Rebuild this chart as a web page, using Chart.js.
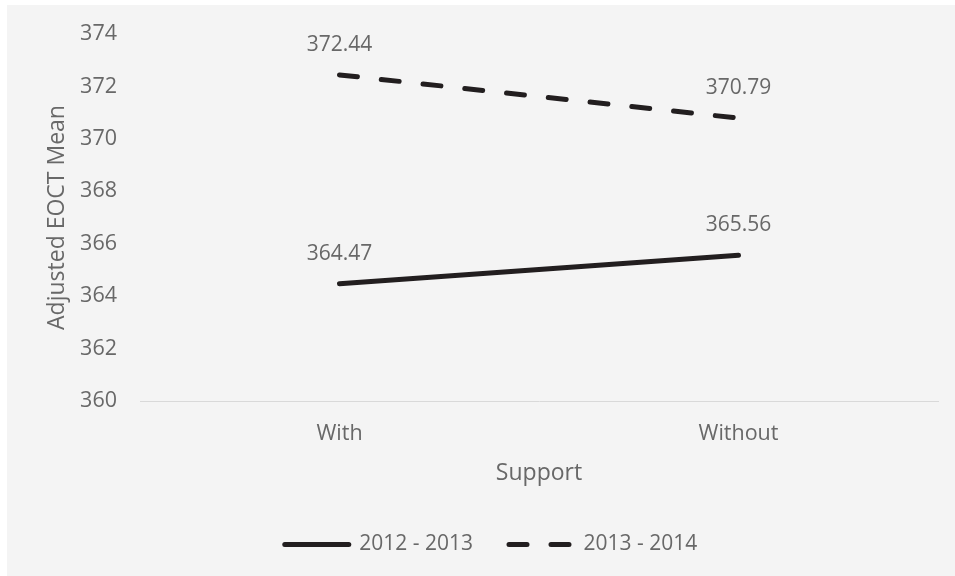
<!DOCTYPE html>
<html>
<head>
<meta charset="utf-8">
<script src="https://cdn.jsdelivr.net/npm/chart.js@4/dist/chart.umd.min.js"></script>
<style>
  html, body { margin: 0; padding: 0; background: #ffffff; }
  #frame { position: absolute; left: 7px; top: 5px; width: 948px; height: 571px; background: #f4f4f4; }
  canvas { display: block; }
</style>
</head>
<body>
<div id="frame"><canvas id="chart" width="948" height="571"></canvas></div>
<script>
// Adjusted EOCT means by support condition, two school years
const categories = ['With', 'Without'];
const seriesNames = ['2012 - 2013', '2013 - 2014'];
const values2012 = [364.47, 365.56];
const values2013 = [372.44, 370.79];
const yMin = 360;
const yMax = 374;
const yStep = 2;

const TEXT = '#686868';
const LINE = '#221e1f';
const FONT = '"Open Sans", "DejaVu Sans", sans-serif';
const DASH = [18, 24];

// Writes each point's value above it
const valueLabels = {
  id: 'valueLabels',
  afterDatasetsDraw(chart) {
    const ctx = chart.ctx;
    ctx.save();
    ctx.font = '21px ' + FONT;
    ctx.fillStyle = TEXT;
    ctx.textAlign = 'center';
    ctx.textBaseline = 'middle';
    chart.data.datasets.forEach((ds, i) => {
      chart.getDatasetMeta(i).data.forEach((pt, j) => {
        ctx.fillText(ds.data[j].toFixed(2), pt.x, pt.y - 30);
      });
    });
    ctx.restore();
  }
};

Chart.defaults.font.family = FONT;
Chart.defaults.font.size = 21;
Chart.defaults.color = TEXT;

new Chart(document.getElementById('chart'), {
  type: 'line',
  data: {
    labels: categories,
    datasets: [
      {
        label: seriesNames[0],
        data: values2012,
        borderColor: LINE,
        backgroundColor: LINE,
        borderWidth: 5,
        borderCapStyle: 'round',
        pointRadius: 0,
        fill: false,
        tension: 0
      },
      {
        label: seriesNames[1],
        data: values2013,
        borderColor: LINE,
        backgroundColor: LINE,
        borderWidth: 5,
        borderCapStyle: 'round',
        borderDash: DASH,
        pointRadius: 0,
        fill: false,
        tension: 0
      }
    ]
  },
  options: {
    responsive: false,
    animation: false,
    layout: { padding: { left: 37, right: 17, top: 29, bottom: 11 } },
    plugins: {
      legend: {
        position: 'bottom',
        labels: {
          usePointStyle: true,
          pointStyle: 'line',
          pointStyleWidth: 64,
          padding: 36,
          color: TEXT,
          font: { size: 21 },
          generateLabels(chart) {
            const items = Chart.defaults.plugins.legend.labels.generateLabels(chart);
            items.forEach(item => {
              const ds = chart.data.datasets[item.datasetIndex];
              item.lineDash = ds.borderDash || [];
              item.lineCap = 'round';
              item.lineWidth = 5;
              item.strokeStyle = LINE;
            });
            return items;
          }
        }
      },
      tooltip: { enabled: false }
    },
    scales: {
      x: {
        offset: true,
        grid: { display: false, drawTicks: false },
        border: { display: true, color: '#d9d9d9', width: 1 },
        ticks: { padding: 20, color: TEXT, font: { size: 21.5 } },
        title: { display: true, text: 'Support', color: TEXT, font: { size: 23 }, padding: { top: 10, bottom: 11 } },
        afterFit(scale) { scale.height = 97; }
      },
      y: {
        min: yMin,
        max: yMax,
        grid: { display: false, drawTicks: false },
        border: { display: false },
        ticks: { stepSize: yStep, padding: 23, color: TEXT, font: { size: 21.5 } },
        title: { display: true, text: 'Adjusted EOCT Mean', color: TEXT, font: { size: 23 }, padding: { top: 0, bottom: 8 } },
        afterFit(scale) {
          scale.width = 96;
          scale.paddingTop = 12;
          scale.paddingBottom = 12;
        }
      }
    }
  },
  plugins: [valueLabels]
});
</script>
</body>
</html>
